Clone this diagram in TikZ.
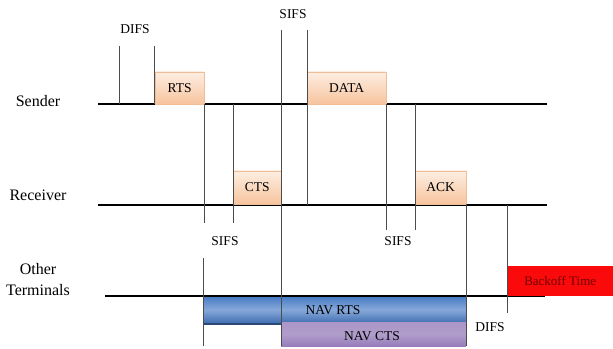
\documentclass[tikz,border=0pt]{standalone}
\usepackage{fontspec}
\setmainfont{Liberation Serif}
\usepackage{tikz}
\usetikzlibrary{positioning, calc}

\definecolor{peachtop}{RGB}{253,238,226}
\definecolor{peachbot}{RGB}{247,196,158}
\definecolor{peachline}{RGB}{240,190,150}
\definecolor{navblue}{RGB}{70,122,196}
\definecolor{navpurple}{RGB}{150,124,185}
\definecolor{backred}{RGB}{250,10,10}

\begin{document}
\begin{tikzpicture}[x=1pt, y=-1pt,
      timeline/.style={line width=2.2pt, black},
      tick/.style={line width=1pt, black!70},
      frame/.style={rectangle, draw=peachline, top color=peachtop, bottom color=peachbot, anchor=south west, inner sep=0pt, font=\fontsize{13.5}{15}\selectfont},
      nav/.style={rectangle, anchor=north west, inner sep=0pt},
      lbl/.style={font=\fontsize{13.5}{15}\selectfont, inner sep=0pt},
      side/.style={font=\fontsize{16}{21}\selectfont, align=center, inner sep=0pt},
    ]
    \useasboundingbox (0,0) rectangle (613,348);

    % Station names
    \node[side] (snd) at (38,101) {Sender};
    \node[side] (rcv) at (38,195) {Receiver};
    \node[side] (oth) at (38,280) {Other\\Terminals};

    % NAV bars
    \node[nav, minimum width=263pt, minimum height=27pt, top color=navblue, bottom color=navblue!90!black, middle color=navblue!65!white] (navrts) at (203,296) {};
    \node[lbl] at (333,310) {NAV RTS};
    \draw[line width=1.5pt, navblue!60!black] (203,324) -- (281,324);
    \node[nav, minimum width=185pt, minimum height=24pt, top color=navpurple!80!white, bottom color=navpurple, middle color=navpurple!75!white] (navcts) at (281,322) {};
    \node[lbl] at (372,336) {NAV CTS};

    % Timelines
    \draw[timeline] (98,104) -- (547,104);
    \draw[timeline] (98,205) -- (547,205);
    \draw[timeline] (105,296) -- (545,296);

    % Frames
    \node[frame, minimum width=49pt, minimum height=32pt] (rts) at (155,104) {RTS};
    \node[frame, minimum width=79pt, minimum height=32pt] (data) at (307,104) {DATA};
    \node[frame, minimum width=48pt, minimum height=33pt] (cts) at (233,204) {CTS};
    \node[frame, minimum width=51pt, minimum height=33pt] (ack) at (415,204) {ACK};
    \node[rectangle, fill=backred, anchor=south west, minimum width=106pt, minimum height=30pt, inner sep=0pt,
          text=black!55!red, font=\fontsize{13}{14}\selectfont] (back) at (507,296) {Backoff Time};

    % Interframe spaces
    \draw[tick] (119,46) -- (119,104);
    \draw[tick] (154,46) -- (154,104);
    \draw[tick] (204,104) -- (204,223);
    \draw[tick] (233,104) -- (233,223);
    \draw[tick] (281,30) -- (281,346);
    \draw[tick] (307,30) -- (307,205);
    \draw[tick] (386,104) -- (386,230);
    \draw[tick] (415,104) -- (415,230);
    \draw[tick] (466,204) -- (466,346);
    \draw[tick] (203,258) -- (203,346);
    \draw[tick] (507,205) -- (507,313);

    % Labels
    \node[lbl] (difsa) at (135,29) {DIFS};
    \node[lbl] (sifsa) at (293,14) {SIFS};
    \node[lbl] (sifsb) at (225,241) {SIFS};
    \node[lbl] (sifsc) at (398,241) {SIFS};
    \node[lbl] (difsb) at (490,327) {DIFS};

  \end{tikzpicture}
\end{document}
